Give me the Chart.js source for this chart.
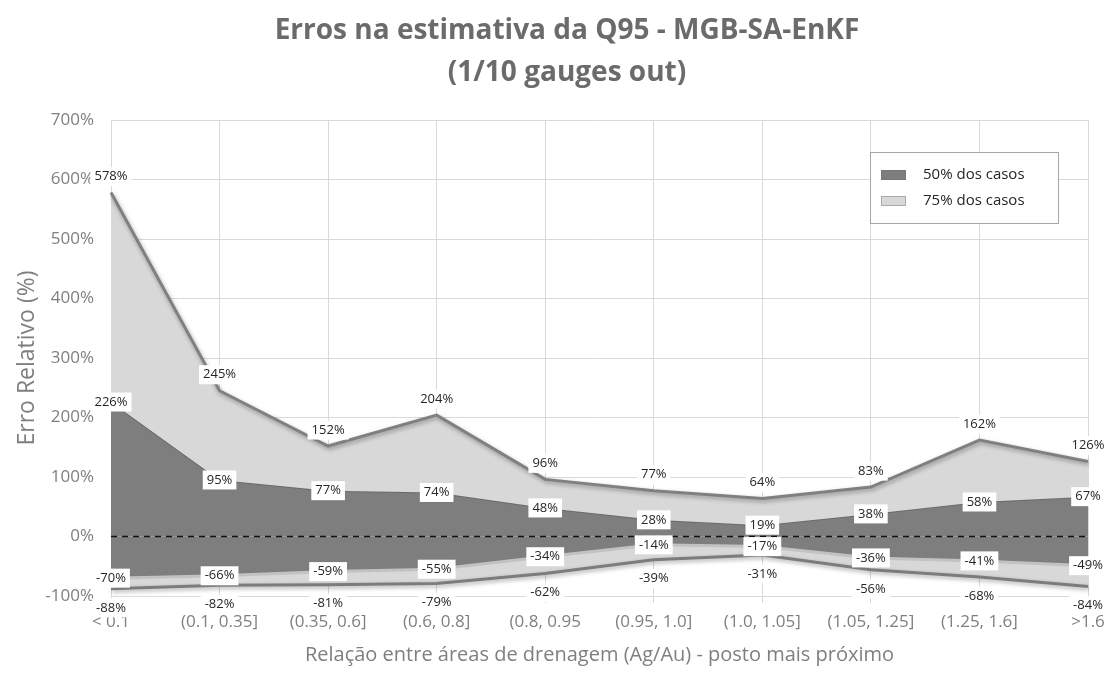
<!DOCTYPE html>
<html>
<head>
<meta charset="utf-8">
<script src="https://cdn.jsdelivr.net/npm/chart.js@4.4.0/dist/chart.umd.min.js"></script>
<style>
  html, body { margin: 0; padding: 0; background: #ffffff; }
  #wrap { width: 1115px; height: 688px; }
</style>
</head>
<body>
<div id="wrap"><canvas id="chart" width="1115" height="688"></canvas></div>
<script>
// Drainage-area ratio classes (Ag/Au)
const categories = ['< 0.1', '(0.1, 0.35]', '(0.35, 0.6]', '(0.6, 0.8]', '(0.8, 0.95', '(0.95, 1.0]', '(1.0, 1.05]', '(1.05, 1.25]', '(1.25, 1.6]', '>1.6'];
// Relative error bounds (%)
const upper75 = [578, 245, 152, 204, 96, 77, 64, 83, 162, 126];
const upper50 = [226, 95, 77, 74, 48, 28, 19, 38, 58, 67];
const lower50 = [-70, -66, -59, -55, -34, -14, -17, -36, -41, -49];
const lower75 = [-88, -82, -81, -79, -62, -39, -31, -56, -68, -84];
const zeroLine = categories.map(() => 0);
// Y axis range
const yMin = -100, yMax = 700, yStep = 100;
const legendLabels = ['50% dos casos', '75% dos casos'];

const DARK = '#7e7e7e';
const LIGHT = '#d8d8d8';
const FONT = '"Open Sans", Lato, sans-serif';

// Centre the title block over the region right of the y-axis title
const titleShift = {
  id: 'titleShift',
  afterLayout(chart) {
    const t = chart.titleBlock;
    if (t) { t.left = 46; t.right = 1088; }
  }
};

// Soft shadow under the band outlines
const shadowPlugin = {
  id: 'bandShadow',
  beforeDatasetDraw(chart, args) {
    const ds = chart.data.datasets[args.index];
    if (!ds.shadow) return;
    const ctx = chart.ctx;
    ctx.save();
    ctx.shadowColor = 'rgba(0,0,0,0.35)';
    ctx.shadowBlur = 4;
    ctx.shadowOffsetX = 1;
    ctx.shadowOffsetY = 2;
  },
  afterDatasetDraw(chart, args) {
    const ds = chart.data.datasets[args.index];
    if (!ds.shadow) return;
    chart.ctx.restore();
  }
};

// Value labels in white boxes
const valueLabels = {
  id: 'valueLabels',
  afterDatasetsDraw(chart) {
    const ctx = chart.ctx;
    ctx.save();
    ctx.font = '13px ' + FONT;
    ctx.textAlign = 'center';
    ctx.textBaseline = 'middle';
    chart.data.datasets.forEach((ds, i) => {
      if (ds.labelOffset === undefined) return;
      const meta = chart.getDatasetMeta(i);
      meta.data.forEach((pt, j) => {
        const txt = ds.data[j] + '%';
        const x = pt.x;
        const y = pt.y + ds.labelOffset;
        const w = ctx.measureText(txt).width + 8;
        const h = 19;
        ctx.fillStyle = '#ffffff';
        ctx.fillRect(x - w / 2, y - h / 2, w, h);
        ctx.fillStyle = '#262626';
        ctx.fillText(txt, x, y);
      });
    });
    ctx.restore();
  }
};

// Boxed legend inside the plot
const boxLegend = {
  id: 'boxLegend',
  afterDraw(chart) {
    const ctx = chart.ctx;
    ctx.save();
    ctx.fillStyle = '#ffffff';
    ctx.fillRect(870, 152, 188, 71);
    ctx.strokeStyle = '#a6a6a6';
    ctx.lineWidth = 1;
    ctx.strokeRect(870.5, 152.5, 188, 71);
    const swatches = [DARK, LIGHT];
    ctx.font = '15px ' + FONT;
    ctx.textBaseline = 'middle';
    ctx.textAlign = 'left';
    legendLabels.forEach((lab, k) => {
      const yc = 175 + k * 26;
      ctx.fillStyle = swatches[k];
      ctx.fillRect(881, yc - 5, 25, 10);
      ctx.strokeStyle = k === 0 ? '#777777' : '#aaaaaa';
      ctx.strokeRect(881.5, yc - 4.5, 24, 9);
      ctx.fillStyle = '#262626';
      ctx.fillText(lab, 923, yc);
    });
    ctx.restore();
  }
};

new Chart(document.getElementById('chart'), {
  type: 'line',
  data: {
    labels: categories,
    datasets: [
      { label: '75% sup', data: upper75, fill: '+1', backgroundColor: LIGHT, borderColor: '#808080', borderWidth: 3, pointRadius: 0, tension: 0, shadow: true, labelOffset: -16 },
      { label: '50% sup', data: upper50, fill: 'origin', backgroundColor: DARK, borderColor: '#6a6a6a', borderWidth: 2, pointRadius: 0, tension: 0, labelOffset: 0 },
      { label: '50% inf', data: lower50, fill: 'origin', backgroundColor: DARK, borderColor: '#c2c2c2', borderWidth: 3, pointRadius: 0, tension: 0, labelOffset: 0 },
      { label: '75% inf', data: lower75, fill: '-1', backgroundColor: LIGHT, borderColor: '#7c7c7c', borderWidth: 3, pointRadius: 0, tension: 0, shadow: true, labelOffset: 19 },
      { label: 'zero', data: zeroLine, fill: false, borderColor: '#111111', borderWidth: 1.5, borderDash: [6, 5], pointRadius: 0, order: -1 }
    ]
  },
  options: {
    responsive: false,
    animation: false,
    devicePixelRatio: 1,
    layout: { padding: { left: 0, right: 27, top: 0, bottom: 0 } },
    plugins: {
      legend: { display: false },
      tooltip: { enabled: false },
      title: {
        display: true,
        text: ['Erros na estimativa da Q95 - MGB-SA-EnKF', '(1/10 gauges out)'],
        color: '#6b6b6b',
        font: { family: FONT, size: 28, weight: 'bold', lineHeight: 1.5 },
        padding: { top: 10, bottom: 26 }
      }
    },
    scales: {
      x: {
        type: 'category',
        offset: false,
        grid: { color: '#d9d9d9', lineWidth: 1, drawTicks: true, tickLength: 7, tickColor: '#d9d9d9' },
        border: { display: false },
        ticks: { color: '#7f7f7f', font: { family: FONT, size: 17 }, padding: 9, maxRotation: 0, autoSkip: false },
        title: { display: true, text: 'Relação entre áreas de drenagem (Ag/Au) - posto mais próximo', color: '#7f7f7f', font: { family: FONT, size: 20, lineHeight: 1.2 }, padding: { top: 0, bottom: 21 } },
        afterFit(scale) { scale.height = 92; }
      },
      y: {
        min: yMin,
        max: yMax,
        grid: { color: '#d9d9d9', lineWidth: 1, drawTicks: false },
        border: { display: false },
        ticks: { stepSize: yStep, color: '#7f7f7f', font: { family: FONT, size: 17 }, padding: 17, callback: v => v + '%' },
        title: { display: true, text: 'Erro Relativo (%)', color: '#7f7f7f', font: { family: FONT, size: 23, lineHeight: 1.2 }, padding: { top: 14, bottom: 0 } },
        afterFit(scale) { scale.width = 111; }
      }
    }
  },
  plugins: [titleShift, shadowPlugin, valueLabels, boxLegend]
});
</script>
</body>
</html>
